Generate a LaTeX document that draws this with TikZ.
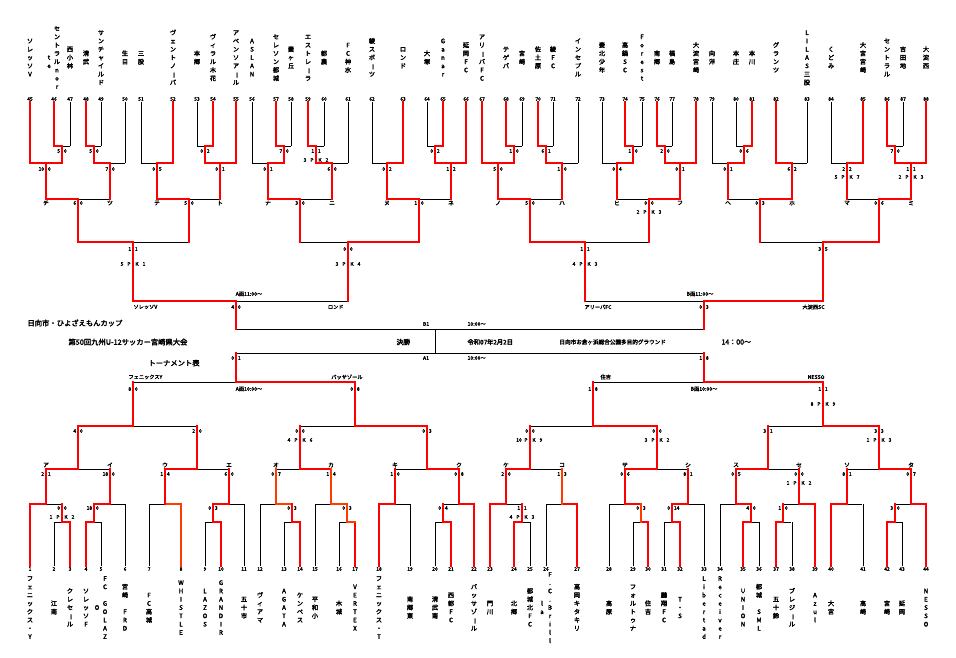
\documentclass[tikz,border=0pt]{standalone}
\usepackage{graphicx}
\usepackage{fontspec}
\newfontfamily\jp{Noto Sans CJK JP}[FakeBold=2.6]
\definecolor{orng}{HTML}{FF3C00}
\ExplSyntaxOn
\NewDocumentCommand\vs{m}{
  \vbox{\offinterlineskip
    \tl_map_inline:nn {#1} {
      \hbox_to_wd:nn {8pt} {\hss\vrule~height~6pt~depth~2.3pt~width~0pt
        \str_if_eq:nnTF {##1} {ー} {\rotatebox[origin=c]{-90}{ー}} {##1}\hss}
    }
  }
}
\ExplSyntaxOff
\newcommand\hh[4]{\draw[#1] (#2,#4) -- (#3,#4);}
\newcommand\vv[4]{\draw[#1] (#2,#3) -- (#2,#4);}
\newcommand\Sc[4]{\node[sc,anchor=east] (s#1-#2a) at (#1-1.4,#2) {#3};\node[sc,anchor=west] (s#1-#2b) at (#1+1.4,#2) {#4};}
\newcommand\Pk[4]{\node[sc] (p#1-#2a) at (#1-11,#2) {#3};\node[sc] (p#1-#2p) at (#1-4,#2) {P};\node[sc] (p#1-#2k) at (#1+4,#2) {K};\node[sc] (p#1-#2b) at (#1+11,#2) {#4};}
\newcommand\TN[3]{\node[nm] (m#1) at (#2,58) {\vs{#3}};}
\newcommand\BN[3]{\node[nm] (m#1) at (#2,608) {\vs{#3}};}
\tikzset{
 bk/.style={draw=black,line width=0.7pt},
 rd/.style={draw=red,line width=1.9pt,line cap=rect},
 og/.style={draw=orng,line width=1.9pt,line cap=rect},
 num/.style={font=\jp\fontsize{4.9}{5}\selectfont,inner sep=0.6pt},
 nm/.style={font=\jp\fontsize{6.2}{7}\selectfont,inner sep=0pt},
 sc/.style={font=\jp\fontsize{5}{5}\selectfont,inner sep=0.3pt},
 lt/.style={font=\jp\fontsize{5.8}{6}\selectfont,inner sep=0.3pt},
 tm/.style={font=\jp\fontsize{5.2}{6}\selectfont,inner sep=0.3pt},
 ttl/.style={font=\jp\fontsize{7.3}{8}\selectfont,inner sep=0.3pt,anchor=west},
 inf/.style={font=\jp\fontsize{5.6}{6}\selectfont,inner sep=0.3pt,anchor=west},
}
\begin{document}
\begin{tikzpicture}[x=1pt,y=-1pt]
\fill[white] (0,0) rectangle (956,657);
\useasboundingbox (0,0) rectangle (956,657);
% numbers
\foreach \i/\x in {45/30,46/54,47/70,48/86,49/101,50/125,51/141,52/173,53/197,54/213,55/236,56/252,57/276,58/291,59/308,60/324,61/348,62/372,63/403,64/427,65/443,66/466,67/482,68/506,69/522,70/538,71/553,72/578,73/602,74/625,75/642,76/657,77/672,78/696,79/712,80/736,81/752,82/776,83/807,84/831,85/863,86/887,87/903,88/926} {\node[num] (n\i) at (\x,99) {\i};}
\foreach \i/\x in {1/30,2/54,3/70,4/86,5/101,6/125,7/149,8/181,9/205,10/221,11/244,12/260,13/284,14/300,15/315,16/339,17/355,18/379,19/410,20/435,21/451,22/474,23/490,24/514,25/530,26/546,27/577,28/609,29/633,30/648,31/664,32/680,33/704,34/720,35/743,36/759,37/776,38/792,39/815,40/831,41/863,42/887,43/902,44/926} {\node[num] (n\i) at (\x,569) {\i};}
% top names
\TN{45}{30}{ソレッソV}
\TN{46}{57}{セントラルnor}\node[nm] (m46b) at (49,62) {\vs{te}};
\TN{47}{70}{西小林}
\TN{48}{86}{清武}
\TN{49}{101}{サンチャイルド}
\TN{50}{125}{生目}
\TN{51}{141}{三股}
\TN{52}{173}{ヴェントノーバ}
\TN{53}{197}{本郷}
\TN{54}{213}{ヴィラル木花}
\TN{55}{236}{アベンソアール}
\TN{56}{252}{ASLAN}
\TN{57}{276}{セレソン都城}
\TN{58}{291}{妻ヶ丘}
\TN{59}{308}{エストレーラ}
\TN{60}{324}{都農}
\TN{61}{348}{FC神水}
\TN{62}{372}{綾スポーツ}
\TN{63}{403}{ロンド}
\TN{64}{427}{大塚}
\TN{65}{443}{Ganar}
\TN{66}{466}{延岡FC}
\TN{67}{482}{アリーバFC}
\TN{68}{506}{テゲバ}
\TN{69}{522}{宮崎}
\TN{70}{538}{佐土原}
\TN{71}{553}{綾FC}
\TN{72}{578}{インセプル}
\TN{73}{602}{妻北少年}
\TN{74}{625}{高鍋SC}
\TN{75}{642}{Forest}
\TN{76}{657}{南郷}
\TN{77}{672}{福島}
\TN{78}{696}{大淀宮崎}
\TN{79}{712}{向洋}
\TN{80}{736}{本庄}
\TN{81}{752}{本川}
\TN{82}{776}{グランツ}
\TN{83}{807}{LILAS三股}
\TN{84}{831}{くどみ}
\TN{85}{863}{大宮宮崎}
\TN{86}{887}{セントラル}
\TN{87}{903}{吉田地}
\TN{88}{926}{大淀西}
% bottom names
\BN{1}{30}{フェニックス・Y}
\BN{2}{54}{江南}
\BN{3}{70}{クレセール}
\BN{4}{86}{ソレッソF}
\BN{5}{105}{FC~GOLAZ}\node[nm] (m5b) at (97,608) {\vs{O}};
\BN{6}{125}{宮崎~FRD}
\BN{7}{149}{FC高城}
\BN{8}{181}{WHISTLE}
\BN{9}{205}{LAZOS}
\BN{10}{221}{GRANDIR}
\BN{11}{244}{五十市}
\BN{12}{260}{ヴィアマ}
\BN{13}{284}{AGATA}
\BN{14}{300}{ケンペス}
\BN{15}{315}{平和小}
\BN{16}{339}{木城}
\BN{17}{355}{VERTEX}
\BN{18}{379}{フェニックス・T}
\BN{19}{410}{南郷東}
\BN{20}{435}{清武南}
\BN{21}{451}{西都FC}
\BN{22}{474}{バッサゾール}
\BN{23}{490}{門川}
\BN{24}{514}{北郷}
\BN{25}{530}{都城北FC}
\BN{26}{550}{F.C.Brill}\node[nm] (m26b) at (542,608) {\vs{la}};
\BN{27}{577}{高岡キタキリ}
\BN{28}{609}{高原}
\BN{29}{633}{フォルトゥナ}
\BN{30}{648}{住吉}
\BN{31}{664}{鵬翔FC}
\BN{32}{680}{T・S}
\BN{33}{704}{Libertad}
\BN{34}{720}{Receiver}
\BN{35}{743}{UNION}
\BN{36}{759}{都城~SML}
\BN{37}{776}{五十鈴}
\BN{38}{792}{ブレジール}
\BN{39}{815}{Azul}
\BN{40}{831}{大宮}
\BN{41}{863}{高崎}
\BN{42}{887}{宮崎}
\BN{43}{902}{延岡}
\BN{44}{926}{NESSO}
% black leaves
\foreach \i/\y in {47/146,49/146,50/163,51/163,53/146,56/163,58/146,60/146,61/163,62/163,64/146,69/146,71/146,72/163,73/163,75/146,77/146,79/163,80/146,83/163,84/163,87/146} {\draw[bk] (n\i.south) -- (n\i.south |- 0,\y);}
\foreach \i/\y in {2/522,5/522,6/504,7/504,9/522,11/504,12/504,13/522,15/504,16/522,19/504,20/522,25/522,26/504,28/504,29/522,31/522,33/504,34/504,36/522,38/522,41/504,43/522} {\draw[bk] (n\i.north) -- (n\i.north |- 0,\y);}
% black segments top
\foreach \a/\b in {62/70,94/101,197/205,284/291,316/324,427/435,514/522,546/553,633/642,665/672,736/744,895/903} {\hh{bk}{\a}{\b}{146}}
\foreach \a/\b in {110/125,141/157,252/268,332/348,372/387,562/578,602/617,712/728,792/807,831/847} {\hh{bk}{\a}{\b}{163}}
\foreach \a/\b in {78/110,189/220,300/332,419/451,530/562,617/649,728/760,847/879} {\hh{bk}{\a}{\b}{199}}
\foreach \a/\b in {133/189,300/348,585/649,760/823} {\hh{bk}{\a}{\b}{242}}
\hh{bk}{236}{348}{301}\hh{bk}{585}{704}{301}
\hh{bk}{236}{704}{329}\hh{bk}{236}{704}{353}\vv{bk}{435}{329}{353}
% black segments bottom
\hh{bk}{133}{236}{382}\hh{bk}{593}{704}{382}
\foreach \a/\b in {133/197,300/355,530/593,768/823} {\hh{bk}{\a}{\b}{426}}
\foreach \a/\b in {78/110,197/229,276/300,395/427,530/562,657/688,768/799,847/879} {\hh{bk}{\a}{\b}{469}}
\foreach \a/\b in {46/62,110/125,149/165,229/244,260/276,315/331,395/410,443/459,506/522,546/562,609/625,688/704,720/736,783/799,847/862,895/911} {\hh{bk}{\a}{\b}{504}}
\foreach \a/\b in {54/62,94/101,205/213,284/292,339/347,435/443,522/530,633/641,664/672,751/759,783/791,895/902} {\hh{bk}{\a}{\b}{522}}
% red leaves
\foreach \i/\y in {45/163,46/146,48/146,52/163,54/146,55/163,57/146,59/146,63/163,65/146,66/163,67/163,68/146,70/146,74/146,76/146,78/163,81/146,82/163,85/163,86/146,88/163} {\draw[rd] (n\i.south) -- (n\i.south |- 0,\y);}
\foreach \i/\y in {1/504,3/522,4/522,10/522,14/522,17/522,18/504,21/522,22/504,23/504,24/522,27/504,30/522,32/522,35/522,37/522,39/504,40/504,42/522,44/504} {\draw[rd] (n\i.north) -- (n\i.north |- 0,\y);}
\draw[og] (n8.north) -- (n8.north |- 0,504);
% red top
\foreach \a/\b/\m in {54/62/62,86/94/94,205/213/205,276/284/284,308/316/316,435/443/435,506/514/514,538/546/546,625/633/633,657/665/665,744/752/744,887/895/895} {\hh{rd}{\a}{\b}{146}\vv{rd}{\m}{146}{163}}
\foreach \a/\b/\m in {30/62/46,94/110/110,157/173/157,205/236/220,268/284/268,316/332/332,387/403/387,435/466/451,482/514/498,546/562/562,617/633/617,665/696/680,728/744/728,776/792/792,847/863/847,895/926/911} {\hh{rd}{\a}{\b}{163}\vv{rd}{\m}{163}{199}}
\foreach \a/\b/\m in {46/78/78,157/189/189,268/300/300,387/419/419,498/530/530,649/680/649,760/792/760,879/911/879} {\hh{rd}{\a}{\b}{199}\vv{rd}{\m}{199}{242}}
\foreach \a/\b/\m in {78/133/133,348/419/348,530/585/585,823/879/823} {\hh{rd}{\a}{\b}{242}\vv{rd}{\m}{242}{301}}
\hh{rd}{133}{236}{301}\vv{rd}{236}{301}{329}
\hh{rd}{704}{823}{301}\vv{rd}{704}{301}{329}
% red bottom
\hh{rd}{236}{355}{382}\vv{rd}{236}{382}{353}
\hh{rd}{704}{823}{382}\vv{rd}{704}{382}{353}
\foreach \a/\b/\m in {78/133/133,355/427/355,593/657/593,823/879/823} {\hh{rd}{\a}{\b}{426}\vv{rd}{\m}{426}{382}}
\foreach \a/\b/\m in {46/78/78,165/197/197,300/331/300,427/459/427,506/530/530,625/657/657,736/768/768,879/911/879} {\hh{rd}{\a}{\b}{469}\vv{rd}{\m}{469}{426}}
\foreach \a/\b/\m in {30/46/46,94/110/110,213/229/229,379/395/395,459/474/459,490/506/506,625/641/625,672/688/688,736/751/736,799/815/799,831/847/847,911/926/911} {\hh{rd}{\a}{\b}{504}\vv{rd}{\m}{504}{469}}
\hh{og}{165}{181}{504}\vv{rd}{165}{504}{469}
\hh{og}{276}{292}{504}\vv{og}{276}{504}{469}
\hh{og}{331}{347}{504}\vv{og}{331}{504}{469}
\hh{rd}{562}{577}{504}\vv{og}{562}{504}{469}
\foreach \a/\b/\m in {62/70/62,86/94/94,213/221/213,292/300/292,443/451/443,514/522/522,672/680/672,743/751/751,776/783/783,887/895/895} {\hh{rd}{\a}{\b}{522}\vv{rd}{\m}{522}{504}}
\hh{og}{347}{355}{522}\vv{og}{347}{522}{504}
\hh{rd}{641}{648}{522}\vv{og}{641}{522}{504}
% scores top
\Sc{62}{151}{5}{0}\Sc{94}{151}{5}{0}\Sc{205}{151}{0}{2}\Sc{284}{151}{7}{0}\Sc{316}{151}{1}{1}\Pk{316}{160}{3}{2}
\Sc{435}{151}{0}{2}\Sc{514}{151}{1}{0}\Sc{546}{151}{6}{1}\Sc{633}{151}{1}{0}\Sc{665}{151}{2}{0}\Sc{744}{151}{0}{6}\Sc{895}{151}{7}{0}
\Sc{46}{169}{10}{0}\Sc{110}{169}{7}{0}\Sc{157}{169}{0}{5}\Sc{220}{169}{0}{1}\Sc{268}{169}{0}{1}\Sc{332}{169}{6}{0}\Sc{387}{169}{0}{2}\Sc{451}{169}{1}{2}
\Sc{498}{169}{5}{0}\Sc{562}{169}{1}{0}\Sc{617}{169}{0}{4}\Sc{680}{169}{0}{1}\Sc{728}{169}{0}{1}\Sc{792}{169}{6}{2}\Sc{847}{169}{2}{2}\Pk{847}{177}{5}{7}\Sc{911}{169}{1}{1}\Pk{911}{177}{2}{3}
\Sc{78}{203}{6}{0}\Sc{189}{203}{5}{0}\Sc{300}{203}{3}{0}\Sc{419}{203}{1}{0}\Sc{530}{203}{5}{0}\Sc{649}{203}{0}{0}\Pk{649}{212}{2}{3}\Sc{760}{203}{0}{3}\Sc{879}{203}{0}{6}
\Sc{133}{249}{1}{1}\Pk{133}{264}{5}{1}\Sc{348}{249}{0}{0}\Pk{348}{264}{3}{4}\Sc{585}{249}{1}{1}\Pk{585}{264}{4}{3}\Sc{823}{249}{3}{5}
\Sc{236}{307}{4}{0}\Sc{704}{307}{0}{3}
% letters top
\foreach \l/\x in {チ/46,ツ/110,テ/157,ト/220,ナ/268,ニ/332,ヌ/387,ネ/451,ノ/498,ハ/562,ヒ/617,フ/680,ヘ/728,ホ/792,マ/847,ミ/911} {\node[lt] (l\x t) at (\x,203) {\l};}
% scores bottom
\Sc{62}{508}{0}{0}\Pk{62}{517}{1}{2}\Sc{94}{508}{18}{0}\Sc{213}{508}{0}{3}\Sc{292}{508}{0}{3}\Sc{347}{508}{0}{3}\Sc{443}{508}{0}{4}
\Sc{522}{508}{1}{1}\Pk{522}{517}{4}{3}\Sc{641}{508}{0}{3}\Sc{672}{508}{0}{14}\Sc{751}{508}{4}{0}\Sc{783}{508}{1}{0}\Sc{895}{508}{3}{0}
\Sc{46}{474}{2}{1}\Sc{110}{474}{18}{0}\Sc{165}{474}{1}{4}\Sc{229}{474}{6}{0}\Sc{276}{474}{0}{7}\Sc{331}{474}{1}{4}\Sc{395}{474}{1}{0}\Sc{459}{474}{0}{8}
\Sc{506}{474}{2}{0}\Sc{562}{474}{1}{3}\Sc{625}{474}{0}{6}\Sc{688}{474}{8}{1}\Sc{736}{474}{0}{5}\Sc{799}{474}{0}{0}\Pk{799}{483}{1}{2}\Sc{847}{474}{8}{1}\Sc{911}{474}{0}{7}
\Sc{78}{431}{4}{0}\Sc{197}{431}{2}{0}\Sc{300}{431}{0}{0}\Pk{300}{440}{4}{6}\Sc{427}{431}{0}{3}\Sc{530}{431}{0}{0}\Pk{530}{440}{10}{9}\Sc{657}{431}{0}{0}\Pk{657}{440}{3}{2}\Sc{768}{431}{3}{1}\Sc{879}{431}{3}{3}\Pk{879}{440}{1}{3}
\Sc{133}{389}{8}{0}\Sc{355}{389}{0}{8}\Sc{593}{389}{1}{8}\Sc{823}{389}{1}{1}\Pk{823}{404}{8}{9}
\Sc{236}{358}{0}{1}\Sc{704}{358}{1}{8}
\foreach \l/\x in {ア/46,イ/110,ウ/165,エ/229,オ/276,カ/331,キ/395,ク/459,ケ/506,コ/562,サ/625,シ/688,ス/736,セ/799,ソ/847,タ/911} {\node[lt] (l\x b) at (\x,465) {\l};}
% semifinal labels
\node[tm,anchor=west] (sfa1) at (133,307) {ソレッソV};
\node[tm,anchor=east] (sfa2) at (344,307) {ロンド};
\node[tm,anchor=west] (sfb1) at (584,307) {アリーバFC};
\node[tm,anchor=east] (sfb2) at (825,307) {大淀西SC};
\node[tm] (ta) at (249,294) {A面11:00～};
\node[tm] (tb) at (700,294) {B面11:00～};
\node[tm,anchor=west] (sfc1) at (128,377) {フェニックスY};
\node[tm,anchor=east] (sfc2) at (363,377) {バッサゾール};
\node[tm,anchor=west] (sfd1) at (600,377) {住吉};
\node[tm,anchor=east] (sfd2) at (825,377) {NESSO};
\node[tm] (tc) at (249,389) {A面10:00～};
\node[tm] (td) at (704,389) {B面10:00～};
% titles and final info
\node[ttl] (t1) at (27,323) {日向市・ひよざえもんカップ};
\node[ttl] (t2) at (68,342) {第50回九州U-12サッカー宮崎県大会};
\node[ttl] (t3) at (148,363) {トーナメント表};
\node[tm] (f1) at (426,324) {B1};
\node[tm,anchor=west] (f2) at (467,324) {10:00～};
\node[tm] (f3) at (426,358) {A1};
\node[tm,anchor=west] (f4) at (467,358) {10:00～};
\node[inf,font=\jp\fontsize{6.8}{7}\selectfont] (f5) at (396,342) {決勝};
\node[inf,font=\jp\fontsize{6.3}{7}\selectfont] (f6) at (467,342) {令和07年2月2日};
\node[inf] (f7) at (559,342) {日向市お倉ヶ浜総合公園多目的グラウンド};
\node[inf,font=\jp\fontsize{7}{8}\selectfont] (f8) at (721,342) {14：00～};
\end{tikzpicture}
\end{document}
